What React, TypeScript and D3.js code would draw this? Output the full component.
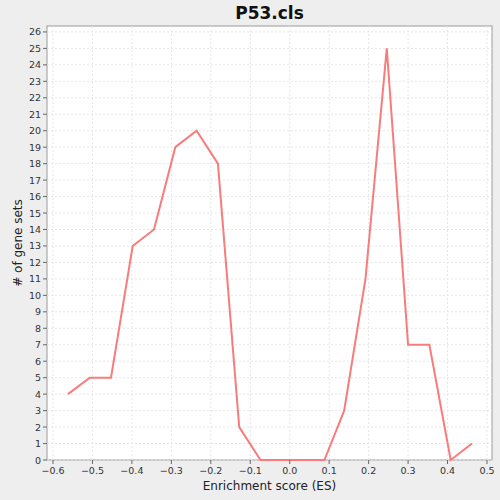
import React from 'react';
import * as d3 from 'd3';

const esValues = [-0.562, -0.507, -0.453, -0.398, -0.344, -0.29, -0.236, -0.182, -0.128, -0.074, -0.02, 0.034, 0.088, 0.138, 0.192, 0.246, 0.3, 0.354, 0.408, 0.462];
const counts = [4, 5, 5, 13, 14, 19, 20, 18, 2, 0, 0, 0, 0, 3, 11, 25, 7, 7, 0, 1];
const xTicks = [-0.6, -0.5, -0.4, -0.3, -0.2, -0.1, 0, 0.1, 0.2, 0.3, 0.4, 0.5];
const yTicks = d3.range(0, 27);

export default function App() {
  const W = 500, H = 500;
  const left = 47, right = 492, top = 26, bottom = 460;
  const x = d3.scaleLinear().domain([-0.6152, 0.5127]).range([left, right]);
  const y = d3.scaleLinear().domain([0, 26.36]).range([bottom, top]);
  const line = d3.line<number>().x((_, i) => x(esValues[i])).y(d => y(d));
  const font = 'DejaVu Sans, sans-serif';
  return (
    <svg width={W} height={H} style={{ position: 'absolute', left: 0, top: 0 }} fontFamily={font}>
      <rect width={W} height={H} fill="#eeeeee" />
      <rect x={left} y={top} width={right - left} height={bottom - top} fill="#fff" stroke="#999" />
      {xTicks.map(t => (
        <line key={'gx' + t} x1={x(t)} x2={x(t)} y1={top} y2={bottom} stroke="#e6e6e6" strokeDasharray="2,2" />
      ))}
      {yTicks.map(t => (
        <line key={'gy' + t} x1={left} x2={right} y1={y(t)} y2={y(t)} stroke="#e6e6e6" strokeDasharray="2,2" />
      ))}
      <path d={line(counts) || ''} fill="none" stroke="#f87c7c" strokeWidth={2} />
      {xTicks.map(t => (
        <g key={'tx' + t}>
          <line x1={x(t)} x2={x(t)} y1={bottom} y2={bottom + 4} stroke="#666" />
          <text x={x(t)} y={bottom + 14} fontSize={9.5} textAnchor="middle" fill="#333">{d3.format('.1f')(t).replace('-0.0', '0.0')}</text>
        </g>
      ))}
      {yTicks.map(t => (
        <g key={'ty' + t}>
          <line x1={left - 4} x2={left} y1={y(t)} y2={y(t)} stroke="#666" />
          <text x={left - 6} y={y(t) + 3.5} fontSize={9.5} textAnchor="end" fill="#333">{t}</text>
        </g>
      ))}
      <text x={(left + right) / 2} y={490} fontSize={12} textAnchor="middle" fill="#222">Enrichment score (ES)</text>
      <text transform={`translate(22,${(top + bottom) / 2}) rotate(-90)`} fontSize={12} textAnchor="middle" fill="#222"># of gene sets</text>
      <text x={(left + right) / 2} y={19} fontSize={17} fontWeight="bold" textAnchor="middle" fill="#111">P53.cls</text>
    </svg>
  );
}
